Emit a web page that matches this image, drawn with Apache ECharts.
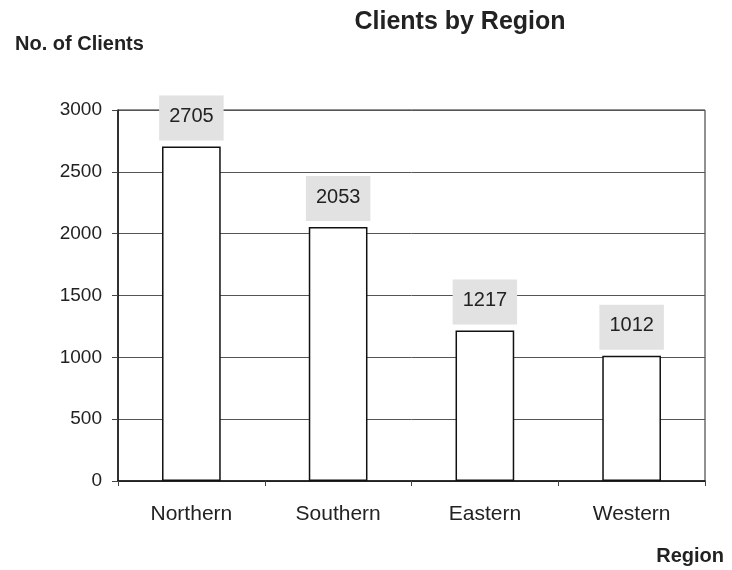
<!DOCTYPE html>
<html>
<head>
<meta charset="utf-8">
<title>Clients by Region</title>
<script src="https://cdn.jsdelivr.net/npm/echarts@6/dist/echarts.min.js"></script>
<style>
  html, body { margin: 0; padding: 0; background: #fff; }
  #chart { width: 732px; height: 570px; }
</style>
</head>
<body>
<div id="chart"></div>
<script>
// Client counts per sales region
const regions = ['Northern', 'Southern', 'Eastern', 'Western'];
const clients = [2705, 2053, 1217, 1012];
const yTicks = [0, 500, 1000, 1500, 2000, 2500, 3000];

const font = '"Liberation Sans", Arial, sans-serif';
const chart = echarts.init(document.getElementById('chart'), null, { renderer: 'canvas' });

chart.setOption({
  backgroundColor: '#ffffff',
  animation: false,
  textStyle: { fontFamily: font },
  title: [
    {
      text: 'Clients by Region',
      left: 455, top: 5, textAlign: 'center',
      textStyle: { fontFamily: font, fontSize: 25, fontWeight: 'bold', color: '#222' }
    },
    {
      text: 'No. of Clients',
      left: 10, top: 29,
      textStyle: { fontFamily: font, fontSize: 20, fontWeight: 'bold', color: '#222' }
    },
    {
      text: 'Region',
      right: 3, top: 541,
      textStyle: { fontFamily: font, fontSize: 20, fontWeight: 'bold', color: '#222' }
    }
  ],
  grid: {
    left: 118, right: 27, top: 110, bottom: 89,
    show: true, borderColor: '#222', borderWidth: 1, backgroundColor: 'transparent'
  },
  xAxis: {
    type: 'category',
    data: regions,
    axisLine: { lineStyle: { color: '#111', width: 1.5 } },
    axisTick: { show: true, length: 5, lineStyle: { color: '#444' } },
    axisLabel: { margin: 23, fontSize: 21, color: '#222', fontFamily: font },
    splitLine: { show: false }
  },
  yAxis: {
    type: 'value',
    min: yTicks[0],
    max: yTicks[yTicks.length - 1],
    interval: yTicks[1] - yTicks[0],
    axisLine: { show: true, lineStyle: { color: '#111', width: 1.5 } },
    axisTick: { show: true, length: 6, lineStyle: { color: '#444' } },
    axisLabel: {
      margin: 16, fontSize: 19, color: '#222', fontFamily: font,
      formatter: function (v) { return String(v); }
    },
    splitLine: { show: true, lineStyle: { color: '#555', width: 1 } }
  },
  series: [{
    type: 'bar',
    data: clients,
    barWidth: '40%',
    itemStyle: { color: '#ffffff', borderColor: '#111', borderWidth: 1.5 },
    label: {
      show: true,
      position: 'top',
      distance: 6,
      fontSize: 20,
      color: '#222',
      fontFamily: font,
      backgroundColor: '#e2e2e2',
      padding: [11, 10, 14, 10]
    }
  }]
});
</script>
</body>
</html>
